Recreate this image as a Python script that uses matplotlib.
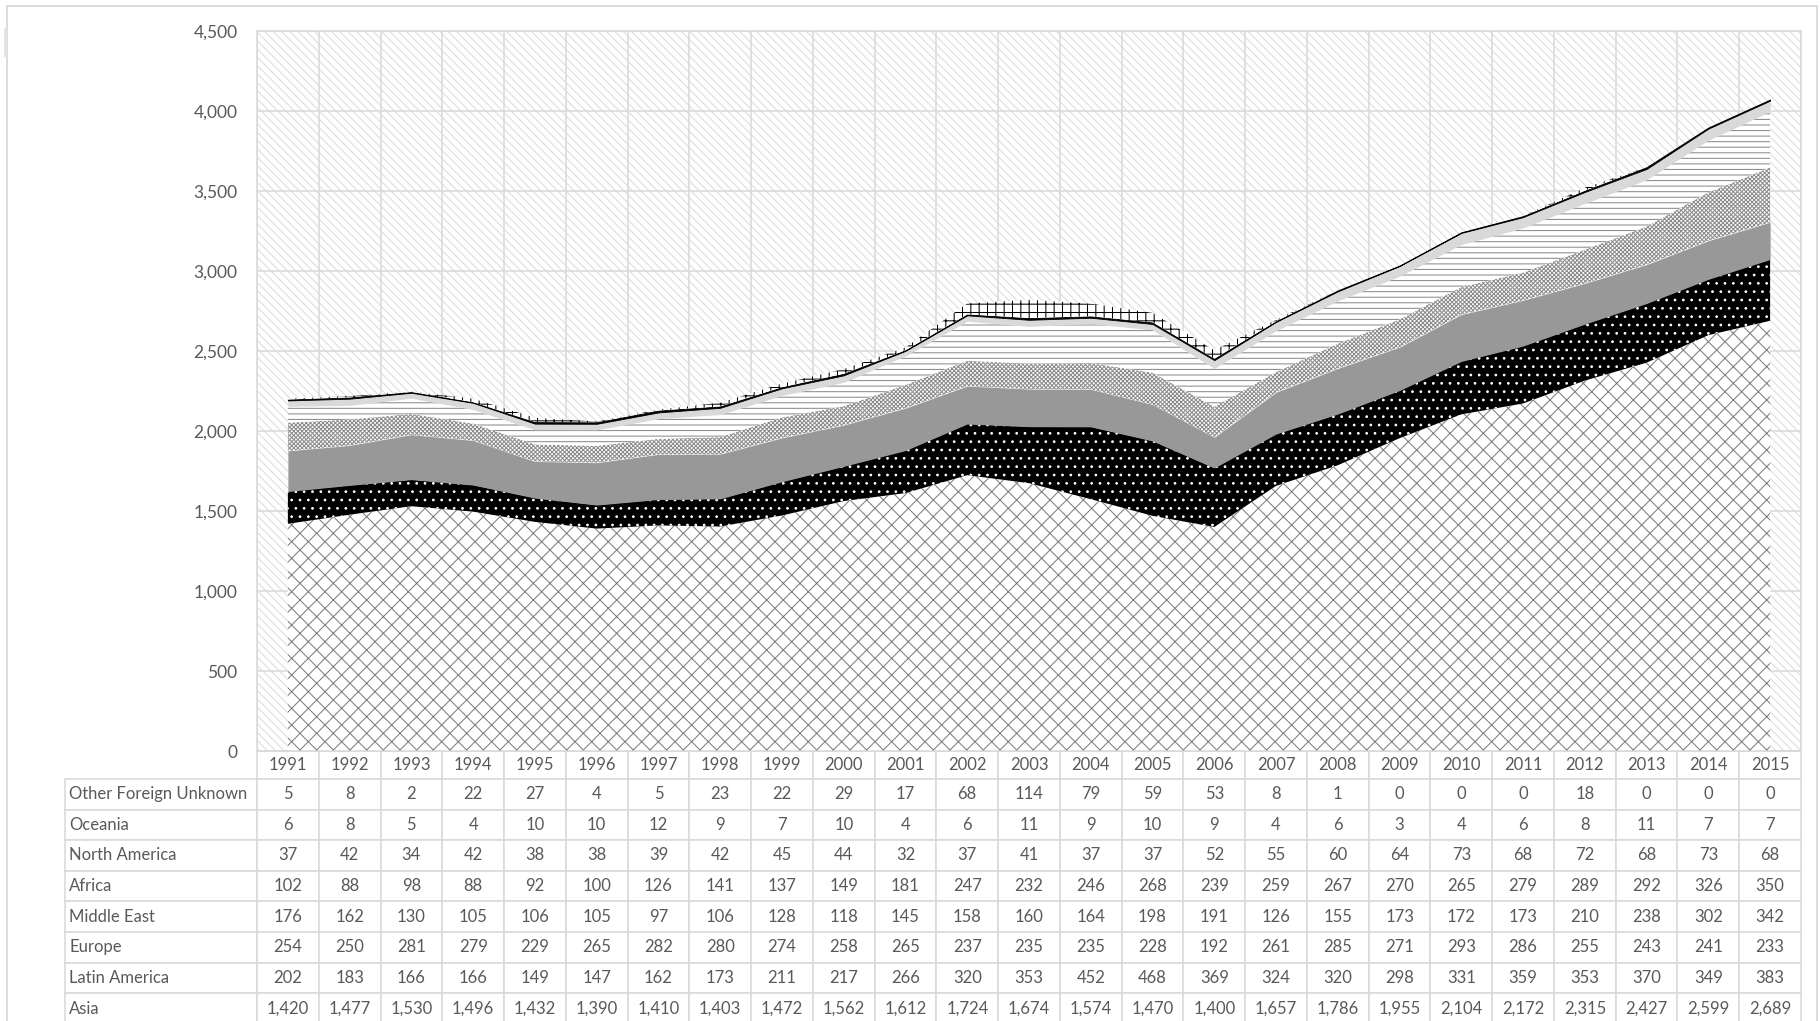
import matplotlib
matplotlib.use("Agg")
import matplotlib.pyplot as plt
from matplotlib.table import Table
from matplotlib.patches import Rectangle
from matplotlib.ticker import StrMethodFormatter
import numpy as np

plt.rcParams['font.family'] = ['Lato', 'DejaVu Sans']
plt.rcParams['hatch.linewidth'] = 0.75

years = list(range(1991, 2016))

asia = [1420, 1477, 1530, 1496, 1432, 1390, 1410, 1403, 1472, 1562, 1612, 1724, 1674,
        1574, 1470, 1400, 1657, 1786, 1955, 2104, 2172, 2315, 2427, 2599, 2689]
latin_america = [202, 183, 166, 166, 149, 147, 162, 173, 211, 217, 266, 320, 353,
                 452, 468, 369, 324, 320, 298, 331, 359, 353, 370, 349, 383]
europe = [254, 250, 281, 279, 229, 265, 282, 280, 274, 258, 265, 237, 235,
          235, 228, 192, 261, 285, 271, 293, 286, 255, 243, 241, 233]
middle_east = [176, 162, 130, 105, 106, 105, 97, 106, 128, 118, 145, 158, 160,
               164, 198, 191, 126, 155, 173, 172, 173, 210, 238, 302, 342]
africa = [102, 88, 98, 88, 92, 100, 126, 141, 137, 149, 181, 247, 232,
          246, 268, 239, 259, 267, 270, 265, 279, 289, 292, 326, 350]
north_america = [37, 42, 34, 42, 38, 38, 39, 42, 45, 44, 32, 37, 41,
                 37, 37, 52, 55, 60, 64, 73, 68, 72, 68, 73, 68]
oceania = [6, 8, 5, 4, 10, 10, 12, 9, 7, 10, 4, 6, 11,
           9, 10, 9, 4, 6, 3, 4, 6, 8, 11, 7, 7]
other_unknown = [5, 8, 2, 22, 27, 4, 5, 23, 22, 29, 17, 68, 114,
                 79, 59, 53, 8, 1, 0, 0, 0, 18, 0, 0, 0]

# bottom -> top of the stack
series = [
    ("Asia", asia),
    ("Latin America", latin_america),
    ("Europe", europe),
    ("Middle East", middle_east),
    ("Africa", africa),
    ("North America", north_america),
    ("Oceania", oceania),
    ("Other Foreign Unknown", other_unknown),
]
# (face, hatch, hatch colour)
styles = {
    "Asia": ("white", "xx", "#7f7f7f"),
    "Latin America": ("black", "..", "white"),
    "Europe": ("#989898", None, "#989898"),
    "Middle East": ("white", "x" * 8, "#8c8c8c"),
    "Africa": ("white", "---", "#8c8c8c"),
    "North America": ("#d9d9d9", None, "#d9d9d9"),
    "Oceania": ("black", None, "black"),
    "Other Foreign Unknown": ("white", "++", "black"),
}

text_c = "#595959"
grid_c = "#d9d9d9"

fig = plt.figure(figsize=(18.2, 10.21), dpi=100)
W, H = 1820, 1021
ax = fig.add_axes([257 / W, 1 - 751 / H, 1544 / W, 720 / H])

x = np.arange(len(years))
base = np.zeros(len(years))
for name, vals in series:
    face, hatch, hc = styles[name]
    top = base + np.array(vals)
    lw = 0.6 if name == "Oceania" else 0
    ax.fill_between(x, base, top, facecolor=face, edgecolor=hc, hatch=hatch,
                    linewidth=lw, zorder=2)
    base = top

# plot-area background pattern
ax.patch.set_facecolor("white")
ax.patch.set_edgecolor("#dcdcdc")
ax.patch.set_hatch(chr(92) * 4)

ax.set_xlim(-0.5, len(years) - 0.5)
ax.set_ylim(0, 4500)
ax.set_yticks(range(0, 4501, 500))
ax.yaxis.set_major_formatter(StrMethodFormatter("{x:,.0f}"))
ax.set_xticks(x)
ax.set_xticks(np.arange(-0.5, len(years), 1), minor=True)
ax.tick_params(axis="both", which="both", length=0, labelbottom=False,
               labelsize=12.5, labelcolor=text_c, pad=14)
ax.set_axisbelow(True)
ax.grid(axis="y", which="major", color=grid_c, linewidth=1.1)
ax.grid(axis="x", which="minor", color=grid_c, linewidth=1.1)
for sp in ax.spines.values():
    sp.set_color(grid_c)
    sp.set_linewidth(1.1)

# data table under the chart
lab_w = 192 / 1544
col_w = 1 / len(years)
hdr_h = 28 / 720
row_h = 30.6 / 720
tbl_h = hdr_h + row_h * len(series)
tbl = Table(ax, bbox=[-lab_w, -tbl_h, 1 + lab_w, tbl_h])
tbl.auto_set_font_size(False)
for j, yr in enumerate(years):
    tbl.add_cell(0, j + 1, width=col_w, height=hdr_h, text=str(yr), loc="center",
                 edgecolor=grid_c, facecolor="white")
for i, (name, vals) in enumerate(reversed(series)):
    c = tbl.add_cell(i + 1, 0, width=lab_w, height=row_h, text=name, loc="left",
                     edgecolor=grid_c, facecolor="white")
    c.PAD = 0.022
    for j, v in enumerate(vals):
        tbl.add_cell(i + 1, j + 1, width=col_w, height=row_h, text=f"{v:,}",
                     loc="center", edgecolor=grid_c, facecolor="white")
for cell in tbl.get_celld().values():
    cell.set_linewidth(1.1)
    cell.get_text().set_color(text_c)
    cell.get_text().set_fontsize(12)
tbl.set_fontsize(12)
ax.add_table(tbl)

# chart outer border and the small mark at the left
fig.patches.append(Rectangle((7 / W, -0.02), 1810 / W, 1 - 6 / H + 0.02,
                             transform=fig.transFigure, fill=False,
                             edgecolor=grid_c, linewidth=1.3))
fig.patches.append(Rectangle((4 / W, 1 - 57 / H), 3 / W, 29 / H,
                             transform=fig.transFigure, facecolor="#e3e3e3",
                             edgecolor="none"))

fig.savefig("out.png", dpi=100)
